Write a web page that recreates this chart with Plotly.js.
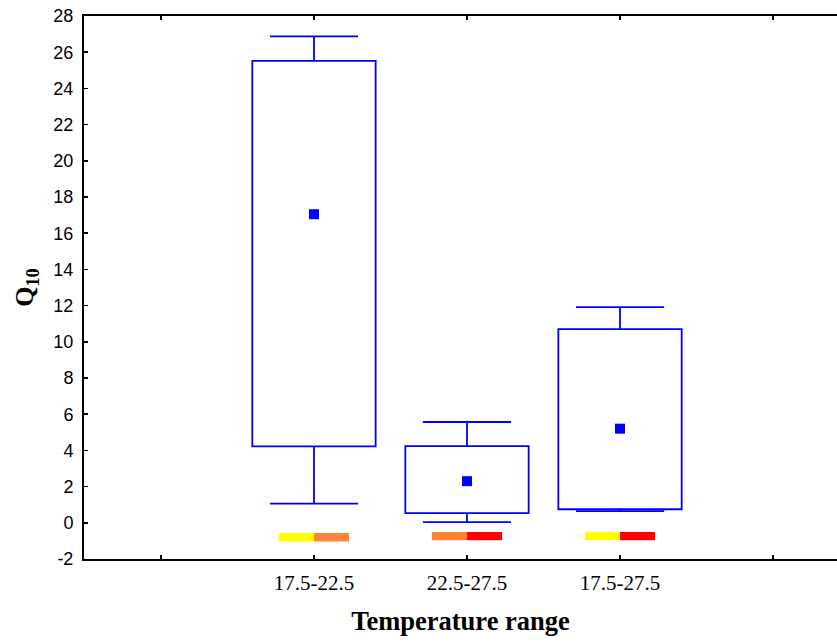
<!DOCTYPE html>
<html>
<head>
<meta charset="utf-8">
<script src="https://cdn.plot.ly/plotly-3.0.1.min.js"></script>
<style>html,body{margin:0;padding:0;background:#fff;}#chart{width:837px;height:642px;}</style>
</head>
<body>
<div id="chart"></div>
<script>
// ---- data ----
const categories   = ['17.5-22.5', '22.5-27.5', '17.5-27.5'];
const positions    = [1, 2, 3];
const emptySlots   = [0, 4];
const yTickValues  = [-2, 0, 2, 4, 6, 8, 10, 12, 14, 16, 18, 20, 22, 24, 26, 28];
const yTickLabels  = ['-2', '0', '2', '4', '6', '8', '10', '12', '14', '16', '18', '20', '22', '24', '26', '28'];
const meanValues   = [17.05, 2.3, 5.2];
const boxLow       = [4.22, 0.54, 0.75];
const boxHigh      = [25.52, 4.24, 10.7];
const whiskerLow   = [1.06, 0.04, 0.64];
const whiskerHigh  = [26.87, 5.57, 11.92];
const markLevel    = [-0.8, -0.74, -0.74];
const markLeftColor  = ['#FFFF00', '#FF8438', '#FFFF00'];
const markRightColor = ['#FF8438', '#FF0000', '#FF0000'];

// ---- styling ----
const BLUE = '#0000FF';
const boxHalf = 0.403, capHalf = 0.288, markHalf = 0.229, markThick = 0.23;

const shapes = [];
positions.forEach((p, i) => {
  shapes.push({type: 'rect', xref: 'x', yref: 'y', x0: p - boxHalf, x1: p + boxHalf,
    y0: boxLow[i], y1: boxHigh[i], line: {color: BLUE, width: 1.8}, fillcolor: 'rgba(0,0,0,0)'});
  shapes.push({type: 'line', xref: 'x', yref: 'y', x0: p, x1: p, y0: boxHigh[i], y1: whiskerHigh[i], line: {color: BLUE, width: 1.8}});
  shapes.push({type: 'line', xref: 'x', yref: 'y', x0: p, x1: p, y0: boxLow[i], y1: whiskerLow[i], line: {color: BLUE, width: 1.8}});
  shapes.push({type: 'line', xref: 'x', yref: 'y', x0: p - capHalf, x1: p + capHalf, y0: whiskerHigh[i], y1: whiskerHigh[i], line: {color: BLUE, width: 1.8}});
  shapes.push({type: 'line', xref: 'x', yref: 'y', x0: p - capHalf, x1: p + capHalf, y0: whiskerLow[i], y1: whiskerLow[i], line: {color: BLUE, width: 1.8}});
  shapes.push({type: 'rect', xref: 'x', yref: 'y', x0: p - markHalf, x1: p,
    y0: markLevel[i] - markThick, y1: markLevel[i] + markThick, line: {width: 0}, fillcolor: markLeftColor[i]});
  shapes.push({type: 'rect', xref: 'x', yref: 'y', x0: p, x1: p + markHalf,
    y0: markLevel[i] - markThick, y1: markLevel[i] + markThick, line: {width: 0}, fillcolor: markRightColor[i]});
});

const traces = [{
  type: 'scatter', mode: 'markers', x: positions, y: meanValues,
  marker: {symbol: 'square', size: 10, color: BLUE},
  hoverinfo: 'skip', showlegend: false
}];

const layout = {
  width: 837, height: 642,
  margin: {l: 84, r: 0, t: 16, b: 83},
  paper_bgcolor: '#fff', plot_bgcolor: '#fff',
  showlegend: false,
  shapes: shapes,
  xaxis: {
    range: [-0.503, 4.418], tickmode: 'array', tickvals: positions, ticktext: categories,
    showgrid: false, zeroline: false, showline: true, linecolor: '#000', linewidth: 2,
    mirror: 'ticks', ticks: 'inside', ticklen: 4, tickwidth: 1.5, tickcolor: '#000',
    minor: {tickmode: 'array', tickvals: emptySlots, ticks: 'inside', ticklen: 4, tickwidth: 1.5, tickcolor: '#000', showgrid: false},
    tickfont: {family: '"Liberation Serif", "Times New Roman", serif', size: 21, color: '#000'},
    ticklabelstandoff: 4,
    title: {text: '<b>Temperature range</b>', standoff: 17,
      font: {family: '"Liberation Serif", "Times New Roman", serif', size: 26.5, color: '#000'}}
  },
  yaxis: {
    range: [-2, 28], tickmode: 'array', tickvals: yTickValues, ticktext: yTickLabels,
    showgrid: false, zeroline: false, showline: true, linecolor: '#000', linewidth: 2,
    ticks: 'inside', ticklen: 4, tickwidth: 1.5, tickcolor: '#000',
    tickfont: {family: '"Liberation Sans", Arial, sans-serif', size: 18, color: '#000'},
    ticklabelstandoff: 5,
    title: {text: '<b>Q<sub>10</sub></b>', standoff: 12,
      font: {family: '"Liberation Serif", "Times New Roman", serif', size: 26, color: '#000'}}
  }
};

Plotly.newPlot('chart', traces, layout, {displayModeBar: false, staticPlot: true});
</script>
</body>
</html>
